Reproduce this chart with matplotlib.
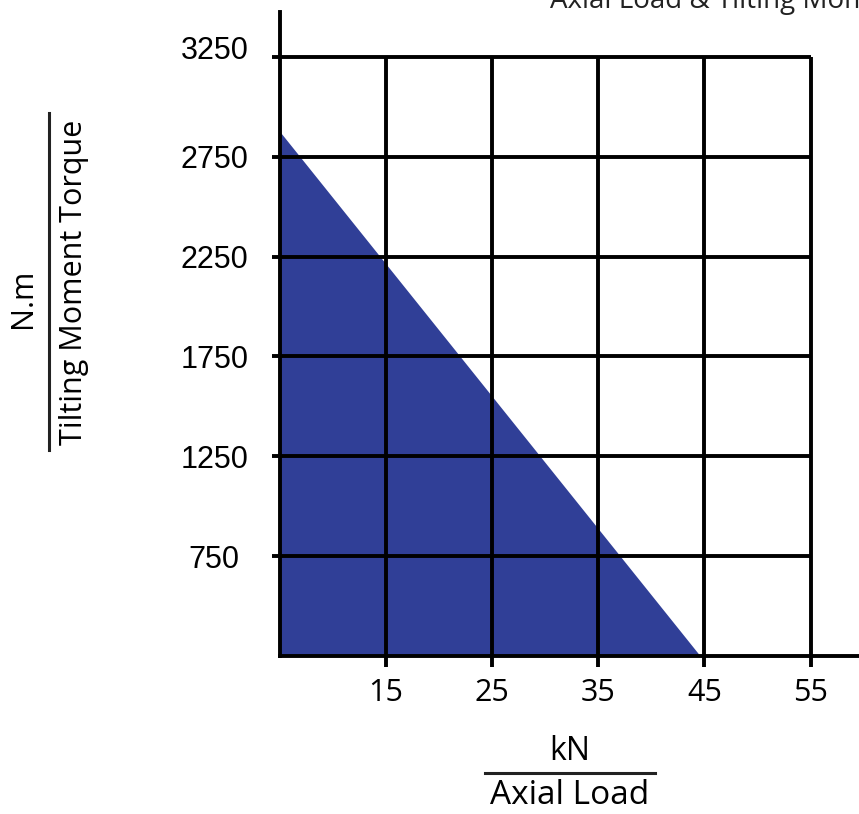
import matplotlib
matplotlib.use("Agg")
import matplotlib.pyplot as plt
from matplotlib.lines import Line2D
from matplotlib.transforms import ScaledTranslation

# Data
axial_load = [5, 44.6]          # kN
tilting_moment = [2875, 250]    # N.m
x_ticks = [15, 25, 35, 45, 55]
y_ticks = [750, 1250, 1750, 2250, 2750, 3250]
x_tick_labels = ["15", "25", "35", "45", "55"]
y_tick_labels = ["750", "1250", "1750", "2250", "2750", "3250"]

W, H = 859, 814
fig = plt.figure(figsize=(W / 100, H / 100), dpi=100)
ax = fig.add_axes([280 / W, 158 / H, 579 / W, 644 / H])

x_min, x_max = 5, 59.56
y_min, y_max = 250, 3475
ax.set_xlim(x_min, x_max)
ax.set_ylim(y_min, y_max)

blue = "#303f97"
lw = 2.8

ax.fill_between(axial_load, tilting_moment, y_min, color=blue, linewidth=0, zorder=1)

# grid box
ax.hlines(y_ticks, x_min, x_ticks[-1], colors="black", linewidth=lw, zorder=3)
ax.vlines(x_ticks, y_min, y_ticks[-1], colors="black", linewidth=lw, zorder=3)

for s in ["top", "right"]:
    ax.spines[s].set_visible(False)
for s in ["left", "bottom"]:
    ax.spines[s].set_linewidth(lw)
    ax.spines[s].set_zorder(4)

ax.set_xticks(x_ticks)
ax.set_xticklabels(x_tick_labels, fontfamily="Open Sans", fontsize=22)
ax.set_yticks(y_ticks)
ax.set_yticklabels(y_tick_labels, fontfamily="Liberation Sans", fontsize=22, ha="center")
ax.tick_params(axis="x", direction="out", length=8, width=lw, pad=8)
ax.tick_params(axis="y", direction="out", length=5.8, width=lw, pad=41.5)

# the top label sits a little higher in the reference
top_lab = ax.yaxis.get_major_ticks()[-1].label1
top_lab.set_transform(top_lab.get_transform() + ScaledTranslation(0, 0.09, fig.dpi_scale_trans))

# x-axis label: kN over Axial Load
fig.text(570 / W, 1 - 752 / H, "kN", fontfamily="Open Sans", fontsize=23,
         ha="center", va="center")
fig.add_artist(Line2D([485 / W, 655 / W], [1 - 773 / H, 1 - 773 / H],
                      color="#222222", linewidth=2.2, transform=fig.transFigure))
fig.text(570 / W, 1 - 796 / H, "Axial Load", fontfamily="Open Sans", fontsize=24,
         ha="center", va="center")

# y-axis label: N.m over Tilting Moment Torque
fig.text(23 / W, 1 - 298 / H, "N.m", fontfamily="Open Sans", fontsize=22,
         ha="center", va="center", rotation=90)
fig.add_artist(Line2D([49 / W, 49 / W], [1 - 113 / H, 1 - 450 / H],
                      color="#222222", linewidth=2.2, transform=fig.transFigure))
fig.text(74 / W, 1 - 282 / H, "Tilting Moment Torque", fontfamily="Open Sans",
         fontsize=22, ha="center", va="center", rotation=90)

# clipped title at top right (cut off by the figure edge, as in the reference)
fig.text(550 / W, 1 - 8 / H, "Axial Load & Tilting Moment", fontfamily="Open Sans",
         fontsize=20, ha="left", va="baseline", color="#222222")

fig.savefig("out.png", dpi=100)
